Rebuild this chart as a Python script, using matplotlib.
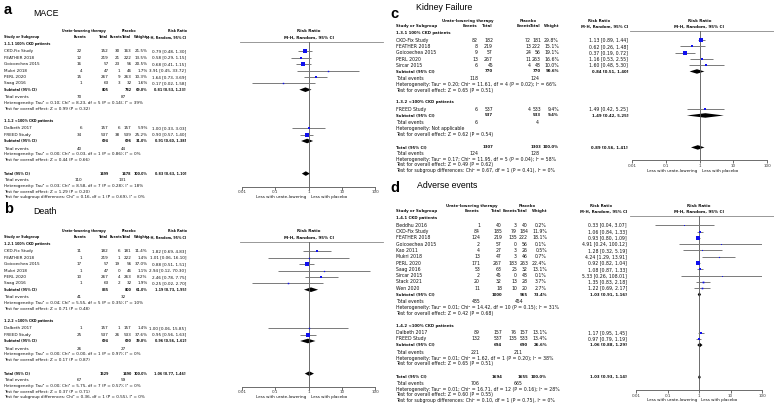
import matplotlib.pyplot as plt
from matplotlib.patches import Polygon

W, H = 774, 409

# ---------------- a: MACE ----------------
mace_study = ["CKD-Fix Study", "FEATHER 2018", "Goicoechea 2015", "Mukri 2018", "PERL 2020",
              "Saag 2016", "Dalbeth 2017", "FREED Study"]
mace_group = [0, 0, 0, 0, 0, 0, 1, 1]
mace_ev_t = [22, 12, 16, 4, 15, 1, 6, 34]
mace_n_t = [152, 219, 57, 47, 267, 63, 157, 537]
mace_ev_p = [30, 21, 23, 1, 9, 3, 6, 38]
mace_n_p = [163, 222, 56, 46, 263, 32, 157, 539]
mace_w = [21.5, 13.5, 20.5, 1.7, 10.3, 1.6, 5.9, 25.2]
mace_rr = [0.79, 0.58, 0.68, 3.91, 1.64, 0.17, 1.00, 0.90]
mace_lo = [0.48, 0.29, 0.41, 0.45, 0.73, 0.02, 0.33, 0.57]
mace_hi = [1.30, 1.15, 1.15, 33.72, 3.69, 1.58, 3.03, 1.40]
mace_groups = ["1.1.1 100% CKD patients", "1.1.2 <100% CKD patients"]
mace_sub_w = [69.0, 31.0]
mace_sub_rr = [0.81, 0.91]
mace_sub_lo = [0.53, 0.60]
mace_sub_hi = [1.23, 1.38]
mace_sub_het = ["Heterogeneity: Tau² = 0.10; Chi² = 8.23, df = 5 (P = 0.14); I² = 39%",
                "Heterogeneity: Tau² = 0.00; Chi² = 0.03, df = 1 (P = 0.86); I² = 0%"]
mace_sub_z = ["Test for overall effect: Z = 0.99 (P = 0.32)",
              "Test for overall effect: Z = 0.44 (P = 0.66)"]
mace_total = [0.83, 0.63, 1.10]
mace_total_txt = ["Heterogeneity: Tau² = 0.03; Chi² = 8.58, df = 7 (P = 0.28); I² = 18%",
                  "Test for overall effect: Z = 1.29 (P = 0.20)",
                  "Test for subgroup differences: Chi² = 0.16, df = 1 (P = 0.69), I² = 0%"]

# ---------------- b: Death ----------------
death_study = ["CKD-Fix Study", "FEATHER 2018", "Goicoechea 2015", "Mukri 2018", "PERL 2020",
               "Saag 2016", "Dalbeth 2017", "FREED Study"]
death_group = [0, 0, 0, 0, 0, 0, 1, 1]
death_ev_t = [11, 1, 17, 1, 10, 1, 1, 25]
death_n_t = [182, 219, 57, 47, 267, 63, 157, 537]
death_ev_p = [6, 1, 19, 0, 4, 2, 1, 26]
death_n_p = [181, 222, 56, 46, 263, 32, 157, 533]
death_w = [11.4, 1.4, 37.0, 1.1, 8.2, 1.9, 1.4, 37.6]
death_rr = [1.82, 1.01, 0.88, 2.94, 2.46, 0.25, 1.00, 0.95]
death_lo = [0.69, 0.06, 0.51, 0.12, 0.78, 0.02, 0.06, 0.56]
death_hi = [4.83, 16.10, 1.51, 70.30, 7.75, 2.70, 15.85, 1.63]
death_groups = ["1.2.1 100% CKD patients", "1.2.2 <100% CKD patients"]
death_sub_w = [61.0, 39.0]
death_sub_rr = [1.19, 0.96]
death_sub_lo = [0.73, 0.56]
death_sub_hi = [1.95, 1.62]
death_sub_het = ["Heterogeneity: Tau² = 0.04; Chi² = 5.55, df = 5 (P = 0.35); I² = 10%",
                 "Heterogeneity: Tau² = 0.00; Chi² = 0.00, df = 1 (P = 0.97); I² = 0%"]
death_sub_z = ["Test for overall effect: Z = 0.71 (P = 0.48)",
               "Test for overall effect: Z = 0.17 (P = 0.87)"]
death_total = [1.06, 0.77, 1.46]
death_total_txt = ["Heterogeneity: Tau² = 0.00; Chi² = 5.75, df = 7 (P = 0.57); I² = 0%",
                   "Test for overall effect: Z = 0.37 (P = 0.71)",
                   "Test for subgroup differences: Chi² = 0.36, df = 1 (P = 0.55), I² = 0%"]

# ---------------- c: Kidney failure ----------------
kid_study = ["CKD-Fix Study", "FEATHER 2018", "Goicoechea 2015", "PERL 2020", "Sircar 2015", "FREED Study"]
kid_group = [0, 0, 0, 0, 0, 1]
kid_ev_t = [82, 8, 9, 13, 6, 6]
kid_n_t = [182, 219, 57, 267, 45, 537]
kid_ev_p = [72, 13, 24, 11, 4, 4]
kid_n_p = [181, 222, 56, 263, 48, 533]
kid_w = [29.8, 15.1, 19.1, 16.6, 10.0, 9.4]
kid_rr = [1.13, 0.62, 0.37, 1.16, 1.60, 1.49]
kid_lo = [0.89, 0.26, 0.19, 0.53, 0.48, 0.42]
kid_hi = [1.44, 1.48, 0.72, 2.55, 5.30, 5.25]
kid_groups = ["1.3.1 100% CKD patients", "1.3.2 <100% CKD patients"]
kid_sub_w = [90.6, 9.4]
kid_sub_rr = [0.84, 1.49]
kid_sub_lo = [0.51, 0.42]
kid_sub_hi = [1.40, 5.25]
kid_sub_het = ["Heterogeneity: Tau² = 0.20; Chi² = 11.61, df = 4 (P = 0.02); I² = 66%",
               "Heterogeneity: Not applicable"]
kid_sub_z = ["Test for overall effect: Z = 0.65 (P = 0.51)",
             "Test for overall effect: Z = 0.62 (P = 0.54)"]
kid_total = [0.89, 0.56, 1.41]
kid_total_txt = ["Heterogeneity: Tau² = 0.17; Chi² = 11.95, df = 5 (P = 0.04); I² = 58%",
                 "Test for overall effect: Z = 0.49 (P = 0.62)",
                 "Test for subgroup differences: Chi² = 0.67, df = 1 (P = 0.41), I² = 0%"]

# ---------------- d: Adverse events ----------------
ae_study = ["Beddhu 2016", "CKD-Fix Study", "FEATHER 2018", "Goicoechea 2015", "Kao 2011", "Mukri 2018",
            "PERL 2020", "Saag 2016", "Sircar 2015", "Stack 2021", "Wen 2020", "Dalbeth 2017", "FREED Study"]
ae_group = [0, 0, 0, 0, 0, 0, 0, 0, 0, 0, 0, 1, 1]
ae_ev_t = [1, 84, 124, 2, 4, 13, 171, 53, 2, 20, 11, 89, 132]
ae_n_t = [40, 185, 219, 57, 27, 47, 267, 63, 45, 32, 18, 157, 537]
ae_ev_p = [3, 79, 135, 0, 3, 3, 183, 25, 0, 13, 10, 76, 135]
ae_n_p = [40, 184, 222, 56, 26, 46, 263, 32, 48, 28, 20, 157, 533]
ae_w = [0.2, 11.9, 18.1, 0.1, 0.5, 0.7, 22.4, 13.1, 0.1, 3.7, 2.7, 13.1, 13.4]
ae_rr = [0.33, 1.06, 0.93, 4.91, 1.28, 4.24, 0.92, 1.08, 5.33, 1.35, 1.22, 1.17, 0.97]
ae_lo = [0.04, 0.84, 0.80, 0.24, 0.32, 1.29, 0.82, 0.87, 0.26, 0.83, 0.69, 0.95, 0.79]
ae_hi = [3.07, 1.33, 1.09, 100.12, 5.19, 13.91, 1.04, 1.33, 108.01, 2.18, 2.17, 1.45, 1.19]
ae_groups = ["1.4.1 CKD patients", "1.4.2 <100% CKD patients"]
ae_sub_w = [73.4, 26.6]
ae_sub_rr = [1.03, 1.06]
ae_sub_lo = [0.91, 0.88]
ae_sub_hi = [1.16, 1.29]
ae_sub_het = ["Heterogeneity: Tau² = 0.01; Chi² = 14.42, df = 10 (P = 0.15); I² = 31%",
              "Heterogeneity: Tau² = 0.01; Chi² = 1.62, df = 1 (P = 0.20); I² = 38%"]
ae_sub_z = ["Test for overall effect: Z = 0.42 (P = 0.68)",
            "Test for overall effect: Z = 0.65 (P = 0.51)"]
ae_total = [1.03, 0.93, 1.14]
ae_total_txt = ["Heterogeneity: Tau² = 0.01; Chi² = 16.71, df = 12 (P = 0.16); I² = 28%",
                "Test for overall effect: Z = 0.60 (P = 0.55)",
                "Test for subgroup differences: Chi² = 0.10, df = 1 (P = 0.75), I² = 0%"]

INK = "#111111"
LINE = "#7a7a7a"
BLUE = "#1010ee"


def draw_panel(fig, tx, d, L):
    u, y0, c = L["unit"], L["top"], L["cols"]
    fs, fb, ff = L["fs"], L["fb"], L["ff"]

    def put(x, y, s, ha="left", bold=False):
        tx.text(x, y, s, ha=ha, va="center", fontsize=fb if bold else fs, color=INK,
                fontweight="bold" if bold else "normal")

    tx.text(L["letter_xy"][0], L["letter_xy"][1], L["letter"], fontsize=10.5, fontweight="bold",
            family="Liberation Sans", va="center", ha="left")
    tx.text(L["title_xy"][0], L["title_xy"][1], L["title"], fontsize=6.3,
            family="Liberation Sans", va="center", ha="left")

    h1, h2 = y0 - 10.3 * u, y0 - 4.3 * u
    put(c["h_t"], h1, "Urate-lowering therapy", "center", True)
    put(c["h_p"], h1, "Placebo", "center", True)
    put(c["h_rr"], h1, "Risk Ratio", "center", True)
    put(c["study"], h2, "Study or Subgroup", bold=True)
    put(c["h_ev"], h2, "Events", "right", True)
    put(c["ut"], h2, "Total", "right", True)
    put(c["h_pe"], h2, "Events", "right", True)
    put(c["pt"], h2, "Total", "right", True)
    put(c["w"], h2, "Weight", "right", True)
    put(c["rr"], h2, "M-H, Random, 95% CI", "right", True)

    # row positions (pixel rows shared by table and forest)
    fx0, fx1 = L["forest"]
    n = len(d["study"])
    y = y0 + 2.7 * u
    blocks = []
    for g, gname in enumerate(d["groups"]):
        idx = [i for i in range(n) if d["group"][i] == g]
        yh = y
        yrows = [yh + 7 * u + k * 6.4 * u for k in range(len(idx))]
        ysub = yrows[-1] + 6.3 * u
        yte = ysub + 7.5 * u
        yhet = yte + 5.8 * u
        yz = yhet + 5.8 * u
        blocks.append((g, gname, idx, yh, yrows, ysub, yte, yhet, yz))
        y = yz + 12.5 * u
    ytot = blocks[-1][-1] + 13.5 * u
    yaxis = ytot + 13 * u

    fa = fig.add_axes([fx0 / W, 1 - yaxis / H, (fx1 - fx0) / W, (yaxis - y0) / H])
    fa.set_facecolor("none")
    fa.set_xscale("log")
    fa.set_xlim(0.01, 100)
    fa.set_ylim(yaxis, y0)
    for s in ["left", "right", "top"]:
        fa.spines[s].set_visible(False)
    fa.spines["bottom"].set_color("#555555")
    fa.spines["bottom"].set_linewidth(0.6)
    fa.set_yticks([])
    fa.set_xticks([0.01, 0.1, 1, 10, 100])
    fa.set_xticklabels(["0.01", "0.1", "1", "10", "100"])
    fa.minorticks_off()
    fa.tick_params(axis="x", labelsize=ff, length=2, width=0.5, pad=0.8, colors="#333333")
    fa.axvline(1, color="#555555", lw=0.6)
    fa.text(0.85, yaxis + 10.7 * u, "Less with urate-lowering", ha="right", va="center", fontsize=ff, color=INK)
    fa.text(1.15, yaxis + 10.7 * u, "Less with placebo", ha="left", va="center", fontsize=ff, color=INK)

    tx.plot(L["hline"], [y0, y0], color="#888888", lw=0.6)
    fc = (fx0 + fx1) / 2
    tx.text(fc, h1, "Risk Ratio", ha="center", va="center", fontsize=ff, fontweight="bold", color=INK)
    tx.text(fc, h2, "M-H, Random, 95% CI", ha="center", va="center", fontsize=ff, fontweight="bold", color=INK)

    def diamond(yc, rr, lo, hi):
        fa.add_patch(Polygon([(lo, yc), (rr, yc - 2.3 * u), (hi, yc), (rr, yc + 2.3 * u)],
                             closed=True, color="black", lw=0))

    for g, gname, idx, yh, yrows, ysub, yte, yhet, yz in blocks:
        put(c["study"], yh, gname, bold=True)
        for i, yr in zip(idx, yrows):
            put(c["study"], yr, d["study"][i])
            put(c["ue"], yr, str(d["ev_t"][i]), "right")
            put(c["ut"], yr, str(d["n_t"][i]), "right")
            put(c["pe"], yr, str(d["ev_p"][i]), "right")
            put(c["pt"], yr, str(d["n_p"][i]), "right")
            put(c["w"], yr, f"{d['w'][i]:.1f}%", "right")
            put(c["rr"], yr, f"{d['rr'][i]:.2f} [{d['lo'][i]:.2f}, {d['hi'][i]:.2f}]", "right")
            fa.hlines(yr, d["lo"][i], d["hi"][i], color=LINE, lw=0.7)
            ms = (0.55 * d["w"][i] ** 0.5 + 0.7) * 0.72
            fa.plot([d["rr"][i]], [yr], marker="s", ms=ms, color=BLUE, mew=0, ls="none")
        put(c["study"], ysub, "Subtotal (95% CI)", bold=True)
        put(c["ut"], ysub, str(sum(d["n_t"][i] for i in idx)), "right", True)
        put(c["pt"], ysub, str(sum(d["n_p"][i] for i in idx)), "right", True)
        put(c["w"], ysub, f"{d['sub_w'][g]:.1f}%", "right", True)
        put(c["rr"], ysub, f"{d['sub_rr'][g]:.2f} [{d['sub_lo'][g]:.2f}, {d['sub_hi'][g]:.2f}]", "right", True)
        diamond(ysub, d["sub_rr"][g], d["sub_lo"][g], d["sub_hi"][g])
        put(c["study"], yte, "Total events")
        put(c["ue"], yte, str(sum(d["ev_t"][i] for i in idx)), "right")
        put(c["te_p"], yte, str(sum(d["ev_p"][i] for i in idx)), "right")
        put(c["study"], yhet, d["sub_het"][g])
        put(c["study"], yz, d["sub_z"][g])

    put(c["study"], ytot, "Total (95% CI)", bold=True)
    put(c["ut"], ytot, str(sum(d["n_t"])), "right", True)
    put(c["pt"], ytot, str(sum(d["n_p"])), "right", True)
    put(c["w"], ytot, "100.0%", "right", True)
    rr, lo, hi = d["total"]
    put(c["rr"], ytot, f"{rr:.2f} [{lo:.2f}, {hi:.2f}]", "right", True)
    diamond(ytot, rr, lo, hi)
    yl = ytot + 6.3 * u
    put(c["study"], yl, "Total events")
    put(c["ue"], yl, str(sum(d["ev_t"])), "right")
    put(c["te_p"], yl, str(sum(d["ev_p"])), "right")
    for k, s in enumerate(d["total_txt"]):
        put(c["study"], yl + (k + 1) * 5.8 * u, s)


def pack(prefix):
    g = globals()
    keys = ["study", "group", "ev_t", "n_t", "ev_p", "n_p", "w", "rr", "lo", "hi", "groups",
            "sub_w", "sub_rr", "sub_lo", "sub_hi", "sub_het", "sub_z", "total", "total_txt"]
    return {k: g[f"{prefix}_{k}"] for k in keys}


cols_ab = dict(study=4, h_ev=86, ue=82, ut=108.5, pe=120, h_pe=122.5, te_p=126, pt=131.5, w=147.5, rr=186,
               h_t=84, h_p=129.5, h_rr=178)
cols_c = dict(study=396, h_ev=477, ue=478, ut=493, pe=531, h_pe=531, te_p=539, pt=541, w=559, rr=628,
              h_t=468, h_p=528, h_rr=599)
cols_d = dict(study=396, h_ev=479, ue=480, ut=502, pe=517, h_pe=517, te_p=523, pt=528, w=547, rr=627,
              h_t=472, h_p=527, h_rr=601)

layouts = [
    ("mace", dict(letter="a", title="MACE", letter_xy=(4, 10), title_xy=(33, 13), unit=1.0, top=41.7,
                  cols=cols_ab, fs=3.0, fb=2.45, ff=3.0, forest=(242, 375), hline=(240, 383))),
    ("death", dict(letter="b", title="Death", letter_xy=(4, 209), title_xy=(33, 211), unit=1.0, top=241.7,
                   cols=cols_ab, fs=3.0, fb=2.45, ff=3.0, forest=(242, 375), hline=(240, 383))),
    ("kid", dict(letter="c", title="Kidney Failure", letter_xy=(390, 14), title_xy=(416, 8), unit=0.98,
                 top=30.7, cols=cols_c, fs=3.35, fb=2.75, ff=3.0, forest=(632, 767), hline=(630, 774))),
    ("ae", dict(letter="d", title="Adverse events", letter_xy=(390, 188), title_xy=(417, 185), unit=0.985,
                top=215.7, cols=cols_d, fs=3.35, fb=2.75, ff=3.0, forest=(636, 762), hline=(630, 774))),
]

fig = plt.figure(figsize=(W / 100, H / 100), dpi=100)
tx = fig.add_axes([0, 0, 1, 1])
tx.set_xlim(0, W)
tx.set_ylim(H, 0)
tx.axis("off")

for prefix, L in layouts:
    draw_panel(fig, tx, pack(prefix), L)

fig.savefig("out.png", dpi=100)
